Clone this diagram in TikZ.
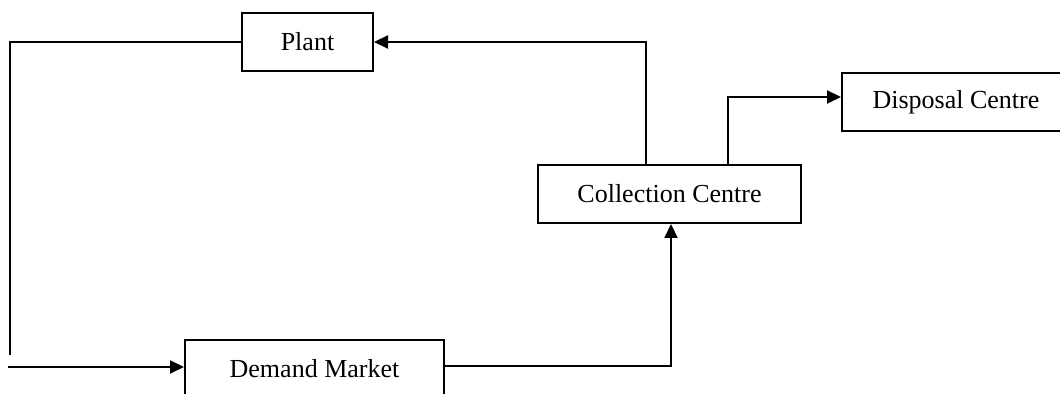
\documentclass[tikz,border=0pt]{standalone}
\usepackage{fontspec}
\setmainfont{Liberation Serif}
\usetikzlibrary{positioning,arrows.meta}

\begin{document}
\begin{tikzpicture}[x=0.5pt,y=-0.5pt,
	box/.style={draw, line width=1pt, minimum height=29pt, inner sep=0pt, font=\fontsize{13}{15}\selectfont},
	link/.style={line width=1pt},
	arr/.style={link, -{Triangle[length=7pt,width=6.5pt]}}]
	\useasboundingbox (0,0) rectangle (1060,394);
	\node[box, minimum width=65.5pt] (plant) at (307.5,42) {Plant};
	\node[box, minimum width=131.5pt] (collect) at (669.5,194) {Collection Centre};
	\node[box, minimum width=114pt] (dispose) at (956,102) {Disposal Centre};
	\node[box, minimum width=129.5pt] (market) at (314.5,369) {Demand Market};
	\coordinate (loopend) at (10,355);
	\coordinate (loopstart) at (8,367);

	\draw[arr] ([xshift=-11.75pt]collect.north) |- (plant.east);
	\draw[arr] ([xshift=29.25pt]collect.north) |- ([yshift=2.5pt]dispose.west);
	\draw[arr] ([yshift=1.5pt]market.east) -| ([xshift=0.75pt]collect.south);
	\draw[link] (plant.west) -| (loopend);
	\draw[arr] (loopstart) -- (loopstart -| market.west);
\end{tikzpicture}
\end{document}
